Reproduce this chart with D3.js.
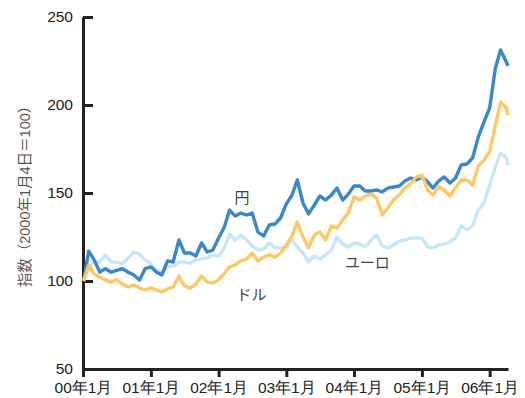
<!DOCTYPE html>
<html><head><meta charset="utf-8">
<script src="https://cdn.jsdelivr.net/npm/d3@7"></script>
<style>
body{margin:0;background:#fff;}
svg{display:block;font-family:"Liberation Sans","Noto Sans CJK JP",sans-serif;}
</style></head>
<body><svg id="c" width="525" height="398"></svg>
<script>
const dates = ["2000-01-04","2000-02-01","2000-03-01","2000-04-01","2000-05-01","2000-06-01","2000-07-01","2000-08-01","2000-09-01","2000-10-01","2000-11-01","2000-12-01",
"2001-01-01","2001-02-01","2001-03-01","2001-04-01","2001-05-01","2001-06-01","2001-07-01","2001-08-01","2001-09-01","2001-10-01","2001-11-01","2001-12-01",
"2002-01-01","2002-02-01","2002-03-01","2002-04-01","2002-05-01","2002-06-01","2002-07-01","2002-08-01","2002-09-01","2002-10-01","2002-11-01","2002-12-01",
"2003-01-01","2003-02-01","2003-03-01","2003-04-01","2003-05-01","2003-06-01","2003-07-01","2003-08-01","2003-09-01","2003-10-01","2003-11-01","2003-12-01",
"2004-01-01","2004-02-01","2004-03-01","2004-04-01","2004-05-01","2004-06-01","2004-07-01","2004-08-01","2004-09-01","2004-10-01","2004-11-01","2004-12-01",
"2005-01-01","2005-02-01","2005-03-01","2005-04-01","2005-05-01","2005-06-01","2005-07-01","2005-08-01","2005-09-01","2005-10-01","2005-11-01","2005-12-01",
"2006-01-01","2006-02-01","2006-03-01","2006-04-01","2006-04-10"];
const yen = [100,117,112,105,107,105,106,107,105,103.4,100.6,107,
108,105,103.4,111.4,110.8,123.3,115.9,115.9,114.2,121.6,116.5,117.6,
124.4,130.7,140.3,136.9,138.6,137.5,138.6,127.8,125.6,131.8,132.4,135.8,
143.8,148.9,157.4,144.3,138.1,143.2,148.3,146,148.9,152.8,146,149.4,
154,154,151.1,151.1,151.7,150.6,152.8,153.4,154,156.8,158.5,157.4,
159.1,156.3,152.8,156.8,159.1,155.7,158.5,165.9,166.5,169.9,181.8,190.3,
198.3,221,231.3,224.4,222.2];
const dollar = [100,109,104,102.3,100.6,99.4,100.6,98.3,96.6,97.7,96,94.9,
96,94.9,93.8,95.5,96.6,102.8,97.2,96,98.3,102.8,99.4,98.9,
100.6,104.5,108,109.1,111.4,112.5,115.9,111.4,113.6,114.8,113.6,115.9,
120.5,125.6,133.5,125,118.8,126.1,127.8,123.3,131.3,130.1,134.7,138.6,
147.7,146,148.3,149.4,147.2,137.5,141.5,146,148.9,152.8,155.1,159.1,
160.2,151.7,148.9,153.4,151.7,148.3,152.8,157.4,157.4,154.5,165.3,168.8,
173.3,188.6,201.7,198.3,194.3];
const euro = [100,108,110.8,110.8,114.8,110.8,110.8,109.7,113.1,116.5,115.3,111.9,
109.7,106.3,104.5,108,108.5,110.8,110.8,110.2,111.9,112.5,113.1,114.8,
114.2,118.8,126.7,123.3,126.1,123.3,119.9,117.6,118.2,121.6,118.8,118.8,
118.8,123.3,119.3,115.9,110.8,114.2,112.5,114.8,117.6,125,121,119.3,
121.6,121,119.3,123.3,126.1,119.9,118.8,120.5,122.7,123.3,124.4,124.4,
124.4,119.3,118.8,120.5,121,122.2,124.4,131.3,129,131.3,140.3,144.3,
154.5,164.8,172.7,169.9,165.9];
const yTicks = [50,100,150,200,250];
const xTickDates = ["2000-01-01","2001-01-01","2002-01-01","2003-01-01","2004-01-01","2005-01-01","2006-01-01"];
const seriesNames = ["ユーロ","円","ドル"];
const seriesColors = ["#c7e6f8","#3a88c9","#fec965"];
const labelPos = [{name:"ユーロ",date:"2003-11-12",value:107.4},{name:"円",date:"2002-03-28",value:144.3},{name:"ドル",date:"2002-04-08",value:89.2}];
const yTitle = "指数（2000年1月4日＝100）";

const parse = d3.timeParse("%Y-%m-%d");
const svg = d3.select("#c");
const x = d3.scaleTime().domain([parse("2000-01-01"), parse("2006-04-10")]).range([83, 508]);
const y = d3.scaleLinear().domain([50, 250]).range([369, 17]);

const yAxis = d3.axisLeft(y).tickValues(yTicks).tickSize(-10).tickSizeOuter(0).tickPadding(10);
const gy = svg.append("g").attr("transform","translate(83,0)").call(yAxis);
const xAxis = d3.axisBottom(x).tickValues(xTickDates.map(parse)).tickFormat(d3.timeFormat("%y年%-m月")).tickSize(8).tickSizeOuter(0).tickPadding(5);
const gx = svg.append("g").attr("transform","translate(0,369)").call(xAxis);
[gx, gy].forEach(g => {
  g.select(".domain").attr("stroke","#222").attr("stroke-width",3);
  g.selectAll(".tick line").attr("stroke","#222").attr("stroke-width",3);
  g.selectAll(".tick text").attr("fill","#222").style("font-size","15.5px");
});

svg.append("text").attr("transform","translate(30,193) rotate(-90)")
  .attr("text-anchor","middle").attr("fill","#555").style("font-size","14.5px").text(yTitle);

const dataSets = [euro, yen, dollar];
const line = d3.line().x(d => x(d[0])).y(d => y(d[1]));
dataSets.forEach((vals, i) => {
  const pts = dates.map((d, j) => [parse(d), vals[j]]);
  svg.append("path").datum(pts).attr("fill","none").attr("stroke",seriesColors[i])
    .attr("stroke-width",3.4).attr("stroke-linejoin","round").attr("d", line);
});

svg.selectAll("text.lab").data(labelPos).enter().append("text").attr("class","lab")
  .attr("x", d => x(parse(d.date))).attr("y", d => y(d.value))
  .attr("fill","#444").style("font-size","15px").text(d => d.name);
</script></body></html>
